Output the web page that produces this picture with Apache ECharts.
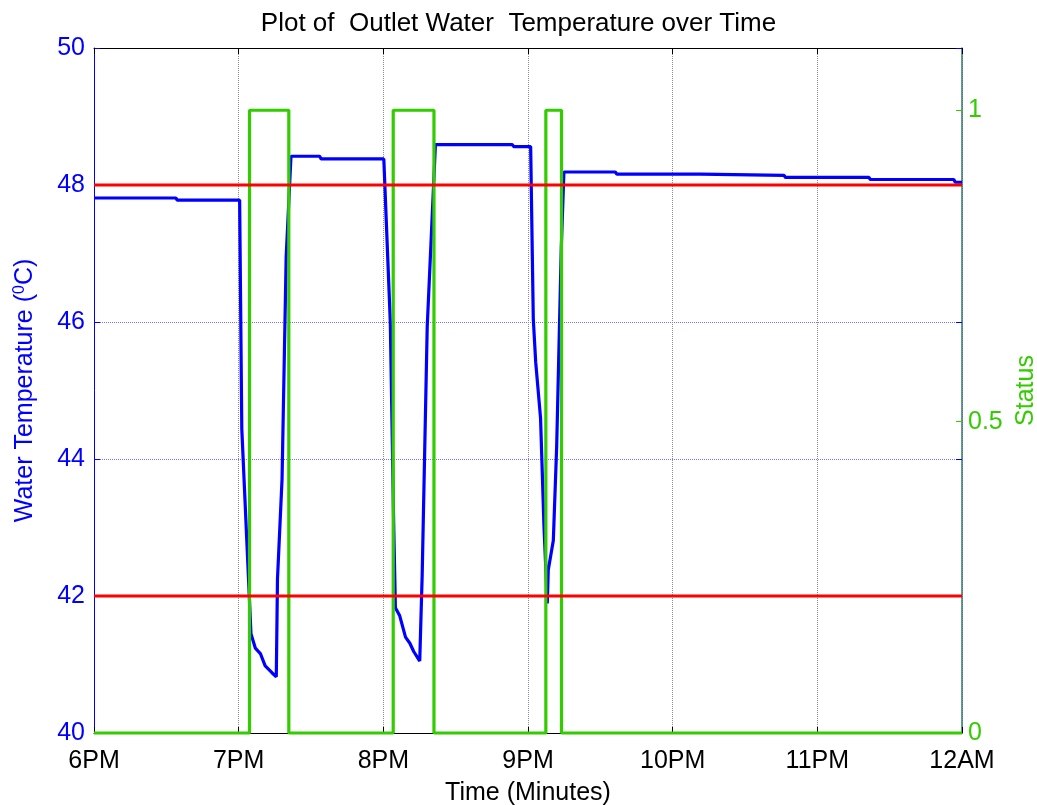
<!DOCTYPE html>
<html>
<head>
<meta charset="utf-8">
<script src="https://cdn.jsdelivr.net/npm/echarts@6/dist/echarts.min.js"></script>
<style>html,body{margin:0;padding:0;background:#fff}#c{width:1037px;height:805px}</style>
</head>
<body>
<div id="c"></div>
<script>
// ---- data (minutes after 6PM) ----
const xTickLabels = ['6PM', '7PM', '8PM', '9PM', '10PM', '11PM', '12AM'];
const tempTime = [0, 34, 34.5, 60.4, 61.3, 65.1, 66.9, 69, 71, 73.8, 75.6, 76.1, 78, 79.7, 81.7, 93.6, 94.2,
  120.2, 122.9, 123.2, 124.3, 125, 126.8, 129.2, 131, 132.6, 135.1, 136.1, 138.2, 141.6, 173.5, 174.1,
  181.1, 182.2, 183.2, 185.2, 186.6, 188, 188.4, 190.5, 191.9, 193.8, 194.9, 216.2, 216.8, 251.4, 252,
  286.2, 286.8, 321.4, 322, 356.6, 357.2, 360];
const tempValues = [47.81, 47.81, 47.78, 47.78, 44.44, 41.45, 41.24, 41.16, 40.98, 40.88, 40.82, 42.25, 43.71, 46.95, 48.42, 48.42, 48.38,
  48.38, 45.99, 45.35, 43.04, 41.83, 41.71, 41.40, 41.31, 41.19, 41.05, 42.29, 45.93, 48.59, 48.59, 48.56,
  48.56, 46.04, 45.41, 44.60, 43.04, 41.89, 42.38, 42.81, 44.19, 47.08, 48.19, 48.19, 48.16, 48.16, 48.14,
  48.14, 48.11, 48.11, 48.08, 48.08, 48.04, 48.04];
const statusTime = [0, 64.5, 64.5, 80.8, 80.8, 124.1, 124.1, 141.0, 141.0, 187.4, 187.4, 193.9, 193.9, 360];
const statusValues = [0, 0, 1, 1, 0, 0, 1, 1, 0, 0, 1, 1, 0, 0];
const thresholds = [42, 48];

const FONT = "'Liberation Sans', Arial, Helvetica, sans-serif";
const BLUE = '#0000ff', GREEN = '#33cc00', RED = '#ff0000';

const zip = (xs, ys) => xs.map((x, i) => [x, ys[i]]);

const chart = echarts.init(document.getElementById('c'), null, {renderer: 'canvas'});
const option = {
  animation: false,
  backgroundColor: '#fff',
  textStyle: {fontFamily: FONT},
  title: {
    text: 'Plot of  Outlet Water  Temperature over Time',
    left: 'center', top: 6,
    textStyle: {fontFamily: FONT, fontSize: 26, fontWeight: 'normal', color: '#000'}
  },
  grid: {left: 94, right: 75, top: 48, bottom: 72, containLabel: false, outerBoundsMode: 'none'},
  xAxis: [{
    type: 'value', min: 0, max: 360, interval: 60, position: 'bottom',
    name: 'Time (Minutes)', nameLocation: 'middle', nameGap: 48,
    nameTextStyle: {fontFamily: FONT, fontSize: 25, color: '#000'},
    axisLine: {show: true, onZero: false, lineStyle: {color: '#000', width: 1}},
    axisTick: {show: true, inside: true, length: 6, lineStyle: {color: '#000'}},
    axisLabel: {fontFamily: FONT, fontSize: 25, color: '#000', margin: 16,
      formatter: v => xTickLabels[Math.round(v / 60)]},
    splitLine: {show: true, lineStyle: {color: '#8c8c8c', type: 'dotted', width: 1}}
  }, {
    type: 'value', min: 0, max: 360, interval: 60, position: 'top',
    axisLine: {show: true, onZero: false, lineStyle: {color: '#000', width: 1}},
    axisTick: {show: true, inside: true, length: 6, lineStyle: {color: '#000'}},
    axisLabel: {show: false},
    splitLine: {show: false}
  }],
  yAxis: [{
    type: 'value', min: 40, max: 50, interval: 2, position: 'left',
    name: 'Water Temperature ({sup|0}C)', nameLocation: 'middle', nameGap: 56,
    nameTextStyle: {fontFamily: FONT, fontSize: 25, color: BLUE,
      rich: {sup: {fontFamily: FONT, fontSize: 16, color: BLUE, verticalAlign: 'top', padding: [0, 0, 10, 0]}}},
    axisLine: {show: true, onZero: false, lineStyle: {color: BLUE, width: 1}},
    axisTick: {show: true, inside: true, length: 6, lineStyle: {color: BLUE}},
    axisLabel: {fontFamily: FONT, fontSize: 25, color: BLUE, margin: 9},
    splitLine: {show: true, lineStyle: {color: 'rgba(0,0,255,0.55)', type: 'dotted', width: 1}}
  }, {
    type: 'value', min: 0, max: 1.1, interval: 0.5, position: 'right',
    name: 'Status', nameLocation: 'middle', nameGap: 50,
    nameTextStyle: {fontFamily: FONT, fontSize: 25, color: GREEN},
    axisLine: {show: true, onZero: false, lineStyle: {color: '#357a6a', width: 1.5}},
    axisTick: {show: true, inside: true, length: 6, lineStyle: {color: GREEN}},
    axisLabel: {fontFamily: FONT, fontSize: 25, color: GREEN, margin: 6, showMaxLabel: false,
      formatter: v => (v > 1.05 ? '' : String(v))},
    splitLine: {show: false}
  }, {
    type: 'value', min: 40, max: 50, interval: 2, position: 'right',
    axisLine: {show: false, onZero: false},
    axisTick: {show: true, inside: true, length: 6, lineStyle: {color: BLUE}},
    axisLabel: {show: false},
    splitLine: {show: false}
  }],
  series: [{
    type: 'line', name: 'Temperature', xAxisIndex: 0, yAxisIndex: 0, z: 3,
    data: zip(tempTime, tempValues), showSymbol: false, symbol: 'none', clip: false,
    lineStyle: {color: BLUE, width: 3.2}, itemStyle: {color: BLUE}
  }, {
    type: 'line', name: 'Status', xAxisIndex: 0, yAxisIndex: 1, z: 4,
    data: zip(statusTime, statusValues), showSymbol: false, symbol: 'none', clip: false,
    lineStyle: {color: GREEN, width: 3.2}, itemStyle: {color: GREEN}
  }].concat(thresholds.map(t => ({
    type: 'line', name: 'Limit ' + t, xAxisIndex: 0, yAxisIndex: 0, z: 5,
    data: [[0, t], [360, t]], showSymbol: false, symbol: 'none', clip: false,
    lineStyle: {color: RED, width: 3.2}, itemStyle: {color: RED}
  })))
};
chart.setOption(option);
</script>
</body>
</html>
